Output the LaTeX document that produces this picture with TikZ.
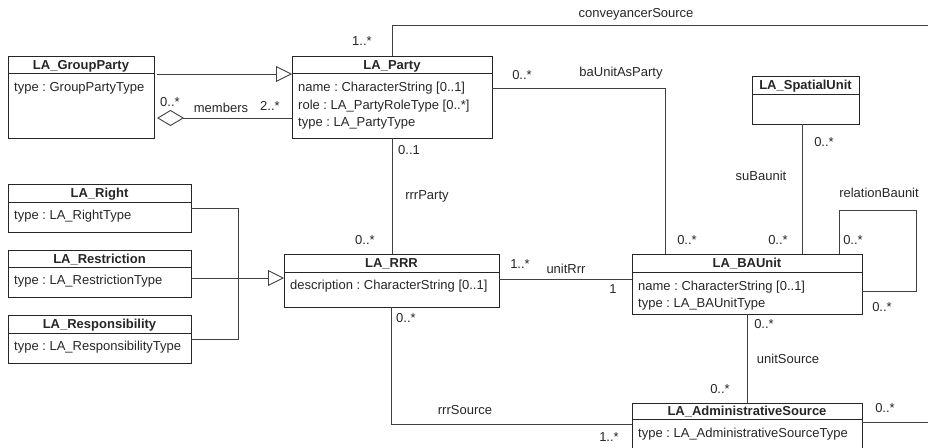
\documentclass[tikz,border=0pt]{standalone}
\usepackage{fontspec}
\setmainfont{Liberation Sans}
\usetikzlibrary{arrows.meta,calc,positioning}
\frenchspacing

\begin{document}
\begin{tikzpicture}[x=1pt,y=-1pt,font=\fontsize{13}{16}\selectfont,every node/.style={text=black!85},
  cls/.style={draw=black!85, line width=0.9pt, inner sep=0pt, outer sep=0pt},
  ttl/.style={font=\fontsize{13}{16}\selectfont\bfseries, anchor=base, inner sep=0pt},
  att/.style={anchor=base west, inner sep=0pt},
  lbl/.style={inner sep=0pt, text depth=0pt},
  conn/.style={draw=black!75, line width=0.9pt},
  gen/.style={conn, -{Triangle[open,length=16pt,width=16pt]}},
  agg/.style={conn, {Diamond[open,length=27pt,width=16pt]}-}]
\path[use as bounding box, clip] (0,0) rectangle (928,447);

\node[cls, minimum width=146pt, minimum height=82pt] (groupparty) at (81,97) {};
\draw[cls] ($(groupparty.north west)+(0,17.5)$) -- ($(groupparty.north east)+(0,17.5)$);
\node[ttl] (groupparty-title) at ($(groupparty.north)+(0,13)$) {LA\_GroupParty};
\node[att] (groupparty-type) at ($(groupparty.north west)+(6,35)$) {type : GroupPartyType};

\node[cls, minimum width=200pt, minimum height=82pt] (party) at (392,97) {};
\draw[cls] ($(party.north west)+(0,17.5)$) -- ($(party.north east)+(0,17.5)$);
\node[ttl] (party-title) at ($(party.north)+(0,13)$) {LA\_Party};
\node[att] (party-name) at ($(party.north west)+(6,35.5)$) {name : CharacterString [0..1]};
\node[att] (party-role) at ($(party.north west)+(6,53)$) {role : LA\_PartyRoleType [0..*]};
\node[att] (party-type) at ($(party.north west)+(6,70.5)$) {type : LA\_PartyType};

\node[cls, minimum width=107pt, minimum height=48pt] (spatialunit) at (805.5,100) {};
\draw[cls] ($(spatialunit.north west)+(0,18)$) -- ($(spatialunit.north east)+(0,18)$);
\node[ttl] (spatialunit-title) at ($(spatialunit.north)+(0,13.5)$) {LA\_SpatialUnit};

\node[cls, minimum width=183pt, minimum height=47.5pt] (right) at (99.5,208.5) {};
\draw[cls] ($(right.north west)+(0,17.5)$) -- ($(right.north east)+(0,17.5)$);
\node[ttl] (right-title) at ($(right.north)+(0,13)$) {LA\_Right};
\node[att] (right-type) at ($(right.north west)+(6,34.5)$) {type : LA\_RightType};

\node[cls, minimum width=183pt, minimum height=47.5pt] (restriction) at (99.5,274) {};
\draw[cls] ($(restriction.north west)+(0,17.5)$) -- ($(restriction.north east)+(0,17.5)$);
\node[ttl] (restriction-title) at ($(restriction.north)+(0,13)$) {LA\_Restriction};
\node[att] (restriction-type) at ($(restriction.north west)+(6,34.5)$) {type : LA\_RestrictionType};

\node[cls, minimum width=183pt, minimum height=47.5pt] (responsibility) at (99.5,339.5) {};
\draw[cls] ($(responsibility.north west)+(0,17.5)$) -- ($(responsibility.north east)+(0,17.5)$);
\node[ttl] (responsibility-title) at ($(responsibility.north)+(0,13)$) {LA\_Responsibility};
\node[att] (responsibility-type) at ($(responsibility.north west)+(6,34.5)$) {type : LA\_ResponsibilityType};

\node[cls, minimum width=215pt, minimum height=53pt] (rrr) at (391.5,280.5) {};
\draw[cls] ($(rrr.north west)+(0,18)$) -- ($(rrr.north east)+(0,18)$);
\node[ttl] (rrr-title) at ($(rrr.north)+(0,13.3)$) {LA\_RRR};
\node[att] (rrr-description) at ($(rrr.north west)+(6,35.3)$) {description : CharacterString [0..1]};

\node[cls, minimum width=230pt, minimum height=60pt] (baunit) at (747,284) {};
\draw[cls] ($(baunit.north west)+(0,18)$) -- ($(baunit.north east)+(0,18)$);
\node[ttl] (baunit-title) at ($(baunit.north)+(0,13.3)$) {LA\_BAUnit};
\node[att] (baunit-name) at ($(baunit.north west)+(6,36)$) {name : CharacterString [0..1]};
\node[att] (baunit-type) at ($(baunit.north west)+(6,53.3)$) {type : LA\_BAUnitType};

\node[cls, minimum width=230pt, minimum height=60pt] (adminsource) at (747,433) {};
\draw[cls] ($(adminsource.north west)+(0,16)$) -- ($(adminsource.north east)+(0,16)$);
\node[ttl] (adminsource-title) at ($(adminsource.north)+(0,12.5)$) {LA\_AdministrativeSource};
\node[att] (adminsource-type) at ($(adminsource.north west)+(6,34)$) {type : LA\_AdministrativeSourceType};

\draw[gen] ($(groupparty.north east)+(3,18)$) -- ($(party.north west)+(0,18)$);
\draw[agg] ($(groupparty.north east)+(3,62)$) -- ($(party.north west)+(0,62)$);
\node[lbl] (members-from) at (170,102) {0..*};
\node[lbl] (members-name) at (221,108) {members};
\node[lbl] (members-to) at (270,106) {2..*};

\coordinate (conveyancer-end) at (935,25);
\draw[conn] (party.north) |- (conveyancer-end);
\node[lbl] (conveyancer-from) at (362,41) {1..*};
\node[lbl] (conveyancer-name) at (636,13) {conveyancerSource};

\draw[conn] ($(party.north east)+(0,32)$) -| ($(baunit.north west)+(33,0)$);
\node[lbl] (baunitasparty-from) at (522,75) {0..*};
\node[lbl] (baunitasparty-name) at (621,72) {baUnitAsParty};
\node[lbl] (baunitasparty-to) at (687,240) {0..*};

\draw[conn] ($(spatialunit.south)+(-3.5,0)$) -- ($(spatialunit.south |- baunit.north)+(-3.5,0)$);
\node[lbl] (subaunit-from) at (824,142) {0..*};
\node[lbl] (subaunit-name) at (761,176) {suBaunit};
\node[lbl] (subaunit-to) at (778,240) {0..*};

\draw[conn] ($(baunit.north east)+(-23,0)$) -- ++(0,-44) -| ($(baunit.north east)+(54,37)$) -- ($(baunit.north east)+(0,37)$);
\node[lbl] (relationbaunit-name) at (879,193) {relationBaunit};
\node[lbl] (relationbaunit-from) at (853,240) {0..*};
\node[lbl] (relationbaunit-to) at (882,307) {0..*};

\draw[conn] (party.south) -- (party.south |- rrr.north);
\node[lbl] (rrrparty-from) at (409,150) {0..1};
\node[lbl] (rrrparty-name) at (427,195) {rrrParty};
\node[lbl] (rrrparty-to) at (365,240) {0..*};

\draw[conn] ($(rrr.north east)+(0,25)$) -- ($(baunit.north west)+(0,25)$);
\node[lbl] (unitrrr-from) at (520,264) {1..*};
\node[lbl] (unitrrr-name) at (566,269) {unitRrr};
\node[lbl] (unitrrr-to) at (613,289) {1};

\draw[conn] (rrr.south) |- ($(adminsource.north west)+(0,21)$);
\node[lbl] (rrrsource-from) at (406,318) {0..*};
\node[lbl] (rrrsource-name) at (465,410) {rrrSource};
\node[lbl] (rrrsource-to) at (609,437) {1..*};

\draw[conn] (baunit.south) -- (adminsource.north);
\node[lbl] (unitsource-from) at (764,324) {0..*};
\node[lbl] (unitsource-name) at (788,359) {unitSource};
\node[lbl] (unitsource-to) at (720,389) {0..*};

\coordinate (source-end) at (935,422);
\draw[conn] ($(adminsource.north east)+(0,19)$) -- (source-end);
\node[lbl] (source-from) at (885,408) {0..*};

\coordinate (rrr-bus) at ($(rrr.north west)+(-46,0)$);
\draw[conn] (right.east) -| (rrr-bus |- responsibility.east) -- (responsibility.east);
\draw[gen] ($(restriction.east)+(0,4)$) -- ($(rrr.north west)+(0,24)$);
\end{tikzpicture}
\end{document}
